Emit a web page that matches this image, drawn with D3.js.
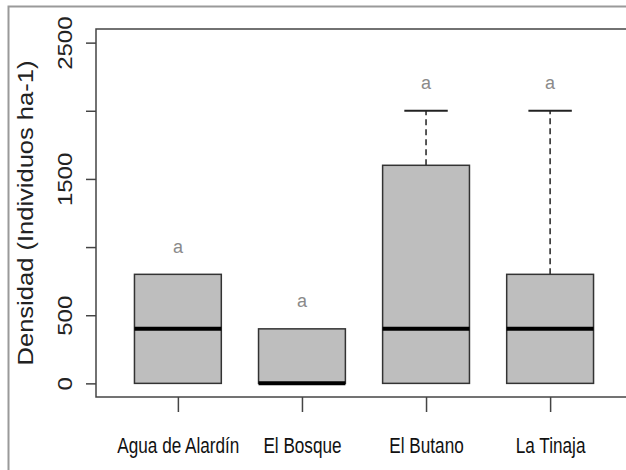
<!DOCTYPE html>
<html>
<head>
<meta charset="utf-8">
<script src="https://cdn.jsdelivr.net/npm/d3@7"></script>
<style>
  html, body { margin: 0; padding: 0; background: #fff; }
  svg { display: block; }
</style>
</head>
<body>
<svg id="chart" width="626" height="470"></svg>
<script>
// Density of individuals per site (boxplot summaries)
const sites = ["Agua de Alardín", "El Bosque", "El Butano", "La Tinaja"];
const q1 = [0, 0, 0, 0];
const medians = [400, 0, 400, 400];
const q3 = [800, 400, 1600, 800];
const whiskerLow = [0, 0, 0, 0];
const whiskerHigh = [800, 400, 2000, 2000];
// Significance letters and the height they sit at
const letters = ["a", "a", "a", "a"];
const letterY = [1000, 600, 2200, 2200];
// Axis ticks
const yTicks = [0, 500, 1000, 1500, 2000, 2500];
const yTickLabels = ["0", "500", "", "1500", "", "2500"];

const svg = d3.select("#chart");
const W = 626, H = 470;

// Outer frame
svg.append("rect")
  .attr("x", 8.5).attr("y", 6.5)
  .attr("width", W).attr("height", H)
  .attr("fill", "none").attr("stroke", "#9a9a9a").attr("stroke-width", 2);

const plot = { left: 96, top: 29, right: 632, bottom: 397 };

const x = d3.scaleLinear().domain([0.34, 4.66]).range([plot.left, plot.right]);
const y = d3.scaleLinear().domain([-100, 2600]).range([plot.bottom, plot.top]);

const boxW = x(1.35) - x(1);   // half box width
const capW = boxW / 2;

// Plot frame
svg.append("rect")
  .attr("x", plot.left).attr("y", plot.top)
  .attr("width", plot.right - plot.left).attr("height", plot.bottom - plot.top)
  .attr("fill", "none").attr("stroke", "#444").attr("stroke-width", 1.5);

// Y axis
const yAxis = d3.axisLeft(y).tickValues(yTicks).tickSize(10)
  .tickFormat((d, i) => yTickLabels[i]);
const gy = svg.append("g").attr("transform", `translate(${plot.left},0)`).call(yAxis);
gy.select(".domain").remove();
gy.selectAll(".tick line").attr("stroke", "#444").attr("stroke-width", 1.5);
gy.selectAll(".tick text")
  .attr("font-family", "Liberation Sans, Arial, sans-serif")
  .attr("font-size", 20).attr("fill", "#222")
  .attr("x", 0).attr("dy", 0).attr("dx", 0)
  .attr("text-anchor", "middle")
  .attr("transform", `translate(-24,0) rotate(-90) scale(1.2,1)`);

// X axis
const xAxis = d3.axisBottom(x).tickValues(d3.range(1, sites.length + 1)).tickSize(15)
  .tickFormat((d) => sites[d - 1]);
const gx = svg.append("g").attr("transform", `translate(0,${plot.bottom})`).call(xAxis);
gx.select(".domain").remove();
gx.selectAll(".tick line").attr("stroke", "#444").attr("stroke-width", 1.5);
gx.selectAll(".tick text")
  .attr("font-family", "Liberation Sans, Arial, sans-serif")
  .attr("font-size", 22).attr("fill", "#111")
  .attr("y", 0).attr("dy", 0)
  .attr("transform", "translate(0,56) scale(0.78,1)");

// Y axis title
svg.append("text")
  .attr("transform", `translate(33,${(plot.top + plot.bottom) / 2}) rotate(-90) scale(1.16,1)`)
  .attr("text-anchor", "middle")
  .attr("font-family", "Liberation Sans, Arial, sans-serif")
  .attr("font-size", 22).attr("fill", "#222")
  .text("Densidad (Individuos ha-1)");

// Boxes
const g = svg.append("g");
sites.forEach((s, i) => {
  const cx = x(i + 1);
  // upper whisker
  if (whiskerHigh[i] > q3[i]) {
    g.append("line")
      .attr("x1", cx).attr("x2", cx)
      .attr("y1", y(q3[i])).attr("y2", y(whiskerHigh[i]))
      .attr("stroke", "#222").attr("stroke-width", 1.5)
      .attr("stroke-dasharray", "6,4");
    g.append("line")
      .attr("x1", cx - capW).attr("x2", cx + capW)
      .attr("y1", y(whiskerHigh[i])).attr("y2", y(whiskerHigh[i]))
      .attr("stroke", "#222").attr("stroke-width", 2);
  }
  if (whiskerLow[i] < q1[i]) {
    g.append("line")
      .attr("x1", cx).attr("x2", cx)
      .attr("y1", y(whiskerLow[i])).attr("y2", y(q1[i]))
      .attr("stroke", "#222").attr("stroke-width", 1.5)
      .attr("stroke-dasharray", "6,4");
  }
  g.append("rect")
    .attr("x", cx - boxW).attr("y", y(q3[i]))
    .attr("width", 2 * boxW).attr("height", y(q1[i]) - y(q3[i]))
    .attr("fill", "#bebebe").attr("stroke", "#333").attr("stroke-width", 1.5);
  g.append("line")
    .attr("x1", cx - boxW).attr("x2", cx + boxW)
    .attr("y1", y(medians[i])).attr("y2", y(medians[i]))
    .attr("stroke", "#000").attr("stroke-width", 4);
  g.append("text")
    .attr("x", cx).attr("y", y(letterY[i]))
    .attr("dy", "0.32em")
    .attr("text-anchor", "middle")
    .attr("font-family", "Liberation Sans, Arial, sans-serif")
    .attr("font-size", 18).attr("fill", "#8a8a8a")
    .text(letters[i]);
});
</script>
</body>
</html>
